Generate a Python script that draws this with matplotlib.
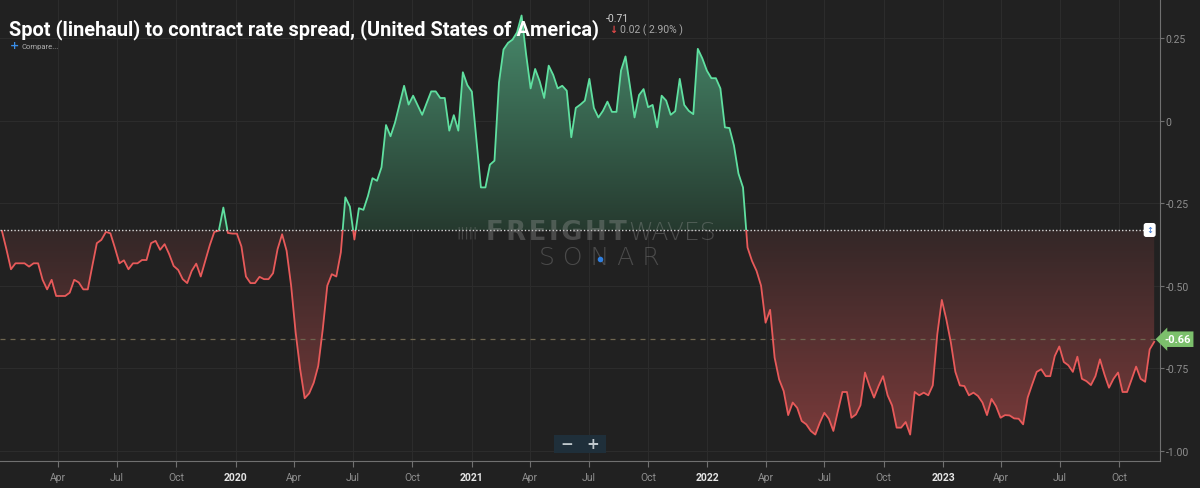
import numpy as np
import pandas as pd
import matplotlib
matplotlib.use("Agg")
import matplotlib.pyplot as plt
import matplotlib.dates as mdates
from matplotlib.path import Path
from matplotlib.colors import to_rgb
from matplotlib.patches import Rectangle

# ---------------- data ----------------
title = "Spot (linehaul) to contract rate spread, (United States of America)"
start_date = "2019-01-04"
spread = [
    -0.334, -0.39, -0.45, -0.432, -0.432, -0.432, -0.442, -0.432, -0.432, -0.482,
    -0.511, -0.482, -0.531, -0.531, -0.531, -0.521, -0.482, -0.49, -0.511, -0.511,
    -0.44, -0.371, -0.361, -0.337, -0.341, -0.385, -0.432, -0.423, -0.45, -0.432,
    -0.432, -0.422, -0.422, -0.371, -0.364, -0.391, -0.374, -0.404, -0.44, -0.452,
    -0.48, -0.492, -0.455, -0.433, -0.472, -0.425, -0.377, -0.337, -0.333, -0.263,
    -0.34, -0.342, -0.342, -0.381, -0.472, -0.492, -0.492, -0.473, -0.48, -0.48,
    -0.462, -0.389, -0.344, -0.394, -0.5, -0.642, -0.753, -0.841, -0.826, -0.794,
    -0.743, -0.632, -0.5, -0.465, -0.472, -0.399, -0.232, -0.26, -0.36, -0.265,
    -0.27, -0.228, -0.174, -0.182, -0.141, -0.013, -0.047, -0.005, 0.05, 0.106,
    0.049, 0.076, 0.047, 0.018, 0.054, 0.089, 0.089, 0.069, 0.069, -0.03,
    0.017, -0.03, 0.147, 0.108, 0.088, -0.056, -0.202, -0.202, -0.133, -0.121,
    0.116, 0.216, 0.236, 0.246, 0.268, 0.319, 0.202, 0.098, 0.157, 0.12,
    0.069, 0.167, 0.139, 0.098, 0.106, 0.091, -0.05, 0.039, 0.049, 0.061,
    0.127, 0.039, 0.01, 0.03, 0.058, 0.027, 0.027, 0.152, 0.195, 0.104,
    0.01, 0.078, 0.096, 0.041, 0.048, -0.02, 0.076, 0.061, 0.018, 0.029,
    0.127, 0.048, 0.03, 0.02, 0.218, 0.189, 0.152, 0.129, 0.129, 0.098,
    -0.02, -0.022, -0.075, -0.16, -0.202, -0.384, -0.425, -0.455, -0.5, -0.612,
    -0.573, -0.718, -0.784, -0.819, -0.892, -0.854, -0.87, -0.91, -0.92, -0.94,
    -0.951, -0.915, -0.885, -0.903, -0.94, -0.88, -0.822, -0.822, -0.9, -0.89,
    -0.862, -0.763, -0.804, -0.839, -0.804, -0.774, -0.832, -0.863, -0.93, -0.93,
    -0.913, -0.951, -0.822, -0.832, -0.824, -0.832, -0.802, -0.647, -0.543, -0.602,
    -0.672, -0.761, -0.802, -0.804, -0.832, -0.824, -0.834, -0.854, -0.892, -0.843,
    -0.865, -0.9, -0.892, -0.893, -0.902, -0.903, -0.92, -0.839, -0.799, -0.761,
    -0.753, -0.774, -0.774, -0.713, -0.684, -0.731, -0.741, -0.761, -0.715, -0.782,
    -0.789, -0.801, -0.774, -0.723, -0.769, -0.809, -0.782, -0.763, -0.822, -0.822,
    -0.784, -0.745, -0.782, -0.791, -0.693, -0.67,
]
baseline = -0.331
last_value = -0.662
last_label = "-0.66"
header_value = "-0.71"
header_change = "0.02 ( 2.90% )"
y_ticks = [0.25, 0, -0.25, -0.5, -0.75, -1.0]
y_tick_labels = ["0.25", "0", "-0.25", "-0.50", "-0.75", "-1.00"]

dates = pd.date_range(start_date, periods=len(spread), freq="7D")
vals = np.array(spread)

# ---------------- style ----------------
BG = "#212121"
GRID = "#2c2c2c"
TXT = "#8e8e8e"
GREEN_LINE = "#5fe0a0"
RED_LINE = "#e85a5a"

W, H = 1200, 489
fig = plt.figure(figsize=(12, 4.89), dpi=100, facecolor=BG)
ax = fig.add_axes([0, (H - 462.3) / H, 1160 / W, 462.3 / H], facecolor=BG)

x0 = mdates.date2num(pd.Timestamp("2019-01-01"))
x1 = mdates.date2num(pd.Timestamp("2023-12-03"))
ymax, ymin = 0.369, -1.032
ax.set_xlim(x0, x1)
ax.set_ylim(ymin, ymax)

xd = mdates.date2num(dates)

def grad_image(c_top, c_bot, ytop, ybot):
    n = 256
    t = np.linspace(0, 1, n)[:, None]
    a = np.array(to_rgb(c_top)); b = np.array(to_rgb(c_bot))
    rgb = a[None, :] * (1 - t) + b[None, :] * t
    img = np.concatenate([rgb, np.ones((n, 1))], axis=1).reshape(n, 1, 4)
    return ax.imshow(img, extent=[x0, x1, ybot, ytop], aspect="auto",
                     origin="upper", zorder=1, interpolation="bilinear")

poly_up = ax.fill_between(xd, vals, baseline, where=vals >= baseline,
                          interpolate=True, facecolor="none", edgecolor="none")
poly_dn = ax.fill_between(xd, vals, baseline, where=vals <= baseline,
                          interpolate=True, facecolor="none", edgecolor="none")
path_up = Path.make_compound_path(*poly_up.get_paths())
path_dn = Path.make_compound_path(*poly_dn.get_paths())

im_up = grad_image("#4a9070", "#263a2f", ymax, baseline)
im_up.set_clip_path(path_up, ax.transData)
im_dn = grad_image("#332727", "#803c3c", baseline, ymin)
im_dn.set_clip_path(path_dn, ax.transData)
ax.set_xlim(x0, x1)
ax.set_ylim(ymin, ymax)

ln_up, = ax.plot(xd, vals, color=GREEN_LINE, lw=1.3, zorder=4)
ln_dn, = ax.plot(xd, vals, color=RED_LINE, lw=1.3, zorder=4)
r_up = Rectangle((x0, baseline), x1 - x0, ymax - baseline, transform=ax.transData)
r_dn = Rectangle((x0, ymin), x1 - x0, baseline - ymin, transform=ax.transData)
ln_up.set_clip_path(r_up)
ln_dn.set_clip_path(r_dn)

months = []
for y in range(2019, 2024):
    for m in (1, 4, 7, 10):
        d = pd.Timestamp(year=y, month=m, day=1)
        if d > pd.Timestamp("2019-01-15"):
            months.append(d)
for d in months:
    ax.axvline(mdates.date2num(d), color=GRID, lw=0.8, zorder=0)
for yv in y_ticks:
    ax.axhline(yv, color=GRID, lw=0.8, zorder=0)

ax.plot([x0, mdates.date2num(pd.Timestamp("2023-11-15"))], [baseline, baseline],
        color="#d8d8d8", lw=1.0, ls=(0, (1, 1.5)), zorder=5)
ax.axhline(last_value, color="#6f6650", lw=0.9, ls=(0, (4, 4)), zorder=3)

# watermark
wm_color = "#a0a0a0"
wm_alpha = 0.33
hs = "\u200a"
ax.text(0.5405, 0.497, hs.join("FREIGHT"), transform=ax.transAxes, ha="right",
        va="center", fontsize=18.5, fontweight="bold", color=wm_color,
        alpha=wm_alpha, family="DejaVu Sans", zorder=6)
ax.text(0.5415, 0.497, "WAVES", transform=ax.transAxes, ha="left", va="center",
        fontsize=18, fontweight="light", color=wm_color, alpha=wm_alpha,
        family="DejaVu Sans", zorder=6)
ax.text(0.412, 0.497, "|||||", transform=ax.transAxes, ha="right", va="center",
        fontsize=9, color=wm_color, alpha=wm_alpha, family="DejaVu Sans", zorder=6)
ax.text(0.517, 0.443, "S O N A R", transform=ax.transAxes, ha="center", va="center",
        fontsize=18, fontweight="light", color=wm_color, alpha=wm_alpha,
        family="DejaVu Sans", zorder=6)
ax.plot([mdates.date2num(pd.Timestamp("2021-07-18"))], [-0.42], marker="o",
        ms=3, color="#2f7fe0", zorder=7)

for s in ("top", "left"):
    ax.spines[s].set_visible(False)
ax.spines["right"].set_color("#707070")
ax.spines["bottom"].set_color("#707070")
ax.yaxis.tick_right()
ax.set_yticks(y_ticks)
ax.set_yticklabels(y_tick_labels)
ax.tick_params(axis="y", colors="#707070", labelcolor=TXT, length=3, pad=1,
               labelsize=7.5)
ax.set_xticks([mdates.date2num(d) for d in months])
ax.set_xticklabels([str(d.year) if d.month == 1 else d.strftime("%b") for d in months])
ax.tick_params(axis="x", colors="#707070", labelcolor=TXT, length=4, pad=4,
               labelsize=7.5)
for lab, d in zip(ax.get_xticklabels(), months):
    if d.month == 1:
        lab.set_color("#e6e6e6")
        lab.set_fontweight("bold")
for lab in ax.get_xticklabels() + ax.get_yticklabels():
    lab.set_family("Roboto")

ax.annotate(last_label, xy=(1.0, last_value), xycoords=("axes fraction", "data"),
            xytext=(3, 0), textcoords="offset points", ha="left", va="center",
            fontsize=8, fontweight="bold", color="white", family="Roboto",
            bbox=dict(boxstyle="larrow,pad=0.25", fc="#7cc06c", ec="none"),
            annotation_clip=False, zorder=10)
ax.annotate("↕", xy=(mdates.date2num(pd.Timestamp("2023-11-17")), baseline),
            ha="center", va="center", fontsize=6, color="#2f6fd0",
            bbox=dict(boxstyle="round,pad=0.3", fc="white", ec="none"), zorder=10)

fig.text(9 / W, 1 - 35 / H, title, fontsize=14.4, fontweight="bold",
         color="white", family="Roboto", va="baseline")
fig.text(606 / W, 1 - 22 / H, header_value, fontsize=7.5, color="#d0d0d0",
         family="Roboto", va="baseline")
fig.text(609 / W, 1 - 33 / H, "↓", fontsize=7, color="#e04848",
         family="DejaVu Sans", va="baseline", ha="left", fontweight="bold")
fig.text(620 / W, 1 - 33 / H, header_change, fontsize=7.5, color="#a8a8a8",
         family="Roboto", va="baseline")
fig.text(10 / W, 1 - 49 / H, "+", fontsize=8, color="#3a8ee8",
         family="DejaVu Sans", va="baseline", fontweight="bold")
fig.text(22 / W, 1 - 49 / H, "Compare...", fontsize=5.5, color="#b0b0b0",
         family="Roboto", va="baseline")

fig.patches.append(Rectangle((554 / W, 1 - 454 / H), 52 / W, 18 / H,
                             transform=fig.transFigure, fc="#1f2f3a", ec="none",
                             zorder=10))
fig.text(567 / W, 1 - 445 / H, "−", fontsize=11, color="#c0c8cc",
         ha="center", va="center", fontweight="bold", zorder=11)
fig.text(593 / W, 1 - 445 / H, "+", fontsize=11, color="#c0c8cc",
         ha="center", va="center", fontweight="bold", zorder=11)

fig.savefig("out.png", dpi=100, facecolor=BG)
